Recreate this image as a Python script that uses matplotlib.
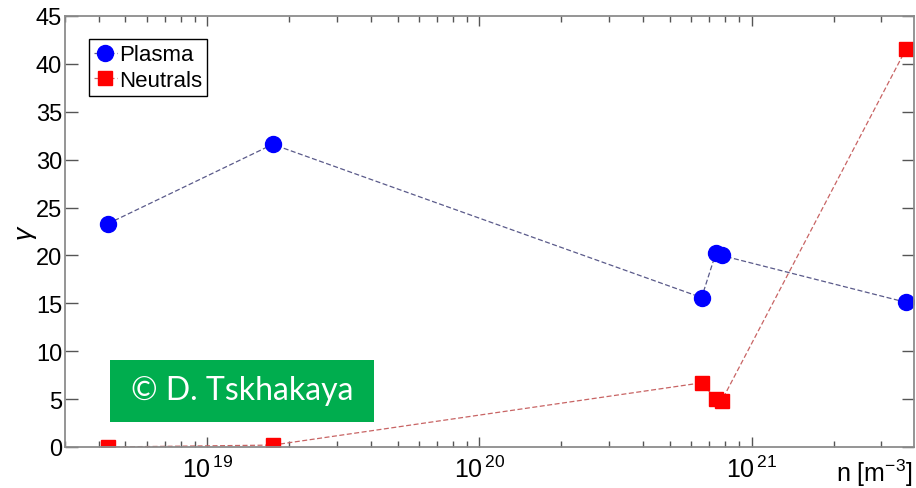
import math

import matplotlib

matplotlib.use("Agg")
import matplotlib.pyplot as plt
from matplotlib.patches import Rectangle
from matplotlib.ticker import FuncFormatter, LogLocator, NullFormatter

# density n [m^-3] for each measurement
density = [4.3e18, 1.74e19, 6.55e20, 7.4e20, 7.75e20, 3.7e21]
gamma_plasma = [23.3, 31.6, 15.6, 20.3, 20.0, 15.1]
gamma_neutrals = [0.0, 0.2, 6.7, 5.0, 4.8, 41.6]
y_ticks = [0, 5, 10, 15, 20, 25, 30, 35, 40, 45]

plt.rcParams.update(
    {
        "font.family": ["Liberation Sans", "DejaVu Sans"],
        "font.size": 17,
        "mathtext.fontset": "custom",
        "mathtext.rm": "Liberation Sans",
        "mathtext.it": "Liberation Sans:italic",
        "axes.edgecolor": "#8c8c8c",
        "axes.linewidth": 1.3,
        "xtick.color": "#555555",
        "ytick.color": "#555555",
        "xtick.labelcolor": "black",
        "ytick.labelcolor": "black",
    }
)

fig = plt.figure(figsize=(9.16, 4.89), dpi=100)
ax = fig.add_axes([65 / 916, 1 - 448 / 489, 849 / 916, 431 / 489])

ax.plot(
    density,
    gamma_plasma,
    linestyle="--",
    dashes=(4, 2),
    color="#5a5a8a",
    linewidth=0.9,
    marker="o",
    markersize=11.5,
    markerfacecolor="#0000ff",
    markeredgecolor="#0000ff",
    label="Plasma",
)
ax.plot(
    density,
    gamma_neutrals,
    linestyle="--",
    dashes=(4, 2),
    color="#c86464",
    linewidth=0.9,
    marker="s",
    markersize=10,
    markerfacecolor="#ff0000",
    markeredgecolor="#ff0000",
    label="Neutrals",
)

ax.set_xscale("log")
ax.set_xlim(3.0e18, 3.95e21)
ax.set_ylim(0, 45)
ax.set_yticks(y_ticks)
ax.xaxis.set_major_locator(LogLocator(base=10, numticks=10))
ax.xaxis.set_major_formatter(
    FuncFormatter(lambda v, pos: "10$^{\\,%d}$" % round(math.log10(v)))
)
ax.xaxis.set_minor_locator(LogLocator(base=10, subs=range(2, 10), numticks=20))
ax.xaxis.set_minor_formatter(NullFormatter())
ax.tick_params(which="both", direction="in", top=True, right=True)
ax.tick_params(which="major", length=7, width=1)
ax.tick_params(which="minor", length=4, width=1)
ax.tick_params(axis="y", which="major", length=9, pad=2)
ax.tick_params(axis="x", which="major", pad=6, labelsize=18)

ax.set_ylabel("$\\gamma$", fontsize=19, labelpad=-2)
fig.text(913 / 916, 1 - 482 / 489, "n [m$^{-3}$]", ha="right", va="baseline", fontsize=18)

leg = ax.legend(
    loc="upper left",
    bbox_to_anchor=(0.028, 0.947),
    fontsize=16,
    handlelength=1.0,
    handletextpad=0.1,
    borderpad=0.25,
    labelspacing=0.2,
    fancybox=False,
    framealpha=1,
    edgecolor="black",
    borderaxespad=0,
)
leg.get_frame().set_linewidth(1.0)

fig.patches.append(
    Rectangle(
        (110 / 916, 1 - 423 / 489),
        264 / 916,
        62 / 489,
        transform=fig.transFigure,
        facecolor="#00ad4e",
        edgecolor="none",
        zorder=5,
    )
)
fig.text(
    242 / 916,
    1 - 391 / 489,
    "© D. Tskhakaya",
    ha="center",
    va="center",
    color="white",
    fontsize=23,
    family=["Lato", "DejaVu Sans"],
    zorder=6,
)

fig.savefig("out.png", dpi=100)
